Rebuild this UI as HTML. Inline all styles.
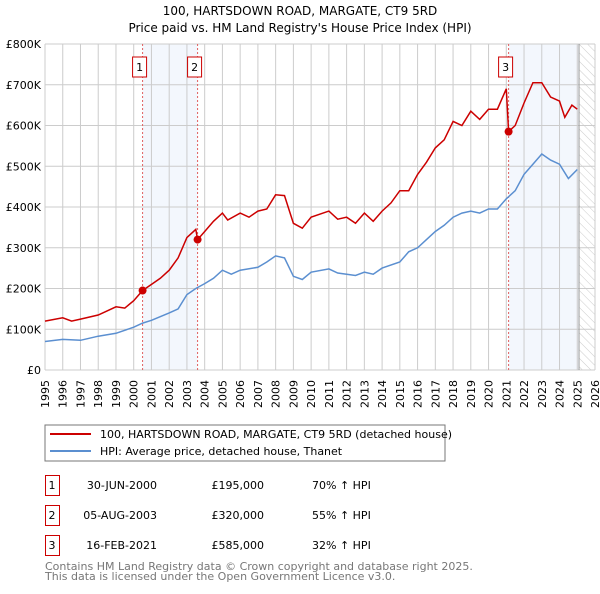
<!DOCTYPE html>
<html><head><meta charset="utf-8"><style>
body{margin:0;background:#fff;font-family:"DejaVu Sans","Liberation Sans",sans-serif;}
svg text{font-family:"DejaVu Sans","Liberation Sans",sans-serif;}
</style></head><body>
<svg id="c" width="600" height="590" xmlns="http://www.w3.org/2000/svg">
<defs><pattern id="hatch" width="6" height="6" patternUnits="userSpaceOnUse" patternTransform="rotate(-45)"><line x1="0" y1="0" x2="0" y2="6" stroke="#ccc" stroke-width="1"/></pattern></defs>
<text x="300" y="15" text-anchor="middle" font-size="12">100, HARTSDOWN ROAD, MARGATE, CT9 5RD</text>
<text x="300" y="32" text-anchor="middle" font-size="12">Price paid vs. HM Land Registry's House Price Index (HPI)</text>
<g id="plot"></g>
<rect x="45" y="425" width="400" height="36" fill="#fff" stroke="#777"/>
<line x1="50" y1="434" x2="91" y2="434" stroke="#cc0000" stroke-width="2"/>
<text x="100" y="438" font-size="11">100, HARTSDOWN ROAD, MARGATE, CT9 5RD (detached house)</text>
<line x1="50" y1="451" x2="91" y2="451" stroke="#5b8fd0" stroke-width="2"/>
<text x="100" y="455" font-size="11">HPI: Average price, detached house, Thanet</text>
<g font-size="11">
<rect x="45.5" y="475.5" width="14" height="20" fill="none" stroke="#cc0000"/><text x="52" y="489" text-anchor="middle">1</text>
<text x="157" y="489" text-anchor="end">30-JUN-2000</text><text x="264" y="489" text-anchor="end">£195,000</text><text x="312" y="489">70% ↑ HPI</text>
<rect x="45.5" y="505.5" width="14" height="20" fill="none" stroke="#cc0000"/><text x="52" y="519" text-anchor="middle">2</text>
<text x="157" y="519" text-anchor="end">05-AUG-2003</text><text x="264" y="519" text-anchor="end">£320,000</text><text x="312" y="519">55% ↑ HPI</text>
<rect x="45.5" y="535.5" width="14" height="20" fill="none" stroke="#cc0000"/><text x="52" y="549" text-anchor="middle">3</text>
<text x="157" y="549" text-anchor="end">16-FEB-2021</text><text x="264" y="549" text-anchor="end">£585,000</text><text x="312" y="549">32% ↑ HPI</text>
</g>
<text x="45" y="570" font-size="11" fill="#777">Contains HM Land Registry data © Crown copyright and database right 2025.</text>
<text x="45" y="580" font-size="11" fill="#777">This data is licensed under the Open Government Licence v3.0.</text>
</svg>
<script>
const yTicks=[0,100,200,300,400,500,600,700,800];
const yTickLabels=["£0","£100K","£200K","£300K","£400K","£500K","£600K","£700K","£800K"];
const xYears=[1995,1996,1997,1998,1999,2000,2001,2002,2003,2004,2005,2006,2007,2008,2009,2010,2011,2012,2013,2014,2015,2016,2017,2018,2019,2020,2021,2022,2023,2024,2025,2026];
const hpiT=[1995,1996,1997,1998,1999,2000,2000.5,2001,2002,2002.5,2003,2003.5,2004,2004.5,2005,2005.5,2006,2007,2007.5,2008,2008.5,2009,2009.5,2010,2011,2011.5,2012,2012.5,2013,2013.5,2014,2015,2015.5,2016,2016.5,2017,2017.5,2018,2018.5,2019,2019.5,2020,2020.5,2021,2021.5,2022,2022.5,2023,2023.5,2024,2024.5,2025];
const hpiV=[70,75,73,83,90,105,115,122,140,150,185,200,212,225,245,235,245,252,265,280,275,230,222,240,248,238,235,232,240,235,250,265,290,300,320,340,355,375,385,390,385,395,395,420,440,480,505,530,515,505,470,492];
const ppT=[1995,1996,1996.5,1997,1998,1998.5,1999,1999.5,2000,2000.5,2001,2001.5,2002,2002.5,2003,2003.5,2003.6,2004,2004.5,2005,2005.3,2006,2006.5,2007,2007.5,2008,2008.5,2009,2009.5,2010,2011,2011.5,2012,2012.5,2013,2013.5,2014,2014.5,2015,2015.5,2016,2016.5,2017,2017.5,2018,2018.5,2019,2019.5,2020,2020.5,2021,2021.13,2021.5,2022,2022.5,2023,2023.5,2024,2024.3,2024.7,2025];
const ppV=[120,128,120,125,135,145,155,152,170,195,210,225,245,275,325,345,320,340,365,385,368,385,375,390,395,430,428,360,348,375,390,370,375,360,385,365,390,410,440,440,480,510,545,565,610,600,635,615,640,640,690,585,600,655,705,705,670,660,620,650,640];
const saleT=[2000.5,2003.6,2021.13];
const saleV=[195,320,585];
const saleLabels=["1","2","3"];
const X0=45,X1=595,Y0=370,Y1=44;
const xs=t=>X0+(t-1995)/31*(X1-X0);
const ys=v=>Y0-v/800*(Y0-Y1);
const NS="http://www.w3.org/2000/svg";
const g=document.getElementById('plot');
function mk(tag,a){const e=document.createElementNS(NS,tag);for(const k in a)e.setAttribute(k,a[k]);g.appendChild(e);return e;}
let r=mk('rect',{x:xs(2000.5),y:Y1,width:xs(2003.6)-xs(2000.5),height:Y0-Y1,fill:'#eef3fc',opacity:0.7});


r=mk('rect',{x:xs(2021.13),y:Y1,width:xs(2025.1)-xs(2021.13),height:Y0-Y1,fill:'#eef3fc',opacity:0.7});


r=mk('rect',{x:xs(2025.1),y:Y1,width:X1-xs(2025.1),height:Y0-Y1,fill:'url(#hatch)'});


xYears.forEach(y=>{const l=mk('line',{x1:xs(y),x2:xs(y),y1:Y1,y2:Y0,stroke:'#ccc'});


const t=mk('text',{x:xs(y),y:Y0+6,'font-size':11,'text-anchor':'end',transform:`rotate(-90 ${xs(y)+4} ${Y0+6})`});t.textContent=y;

});
yTicks.forEach((v,i)=>{const l=mk('line',{x1:X0,x2:X1,y1:ys(v),y2:ys(v),stroke:'#ccc'});


const t=mk('text',{x:X0-4,y:ys(v)+4,'font-size':11,'text-anchor':'end'});t.textContent=yTickLabels[i];

});
let l=mk('line',{x1:xs(2025.1),x2:xs(2025.1),y1:Y1,y2:Y0,stroke:'#999'});


saleT.forEach((t,i)=>{const d=mk('line',{x1:xs(t),x2:xs(t),y1:Y1,y2:Y0,stroke:'#e06060','stroke-dasharray':'2,2'});


const b=mk('rect',{x:xs(t)-10,y:57,width:14,height:20,fill:'#fff',stroke:'#cc0000'});


const tx=mk('text',{x:xs(t)-3,y:71,'font-size':11,'text-anchor':'middle'});tx.textContent=saleLabels[i];

});
const pts=(T,V)=>T.map((t,i)=>xs(t).toFixed(1)+','+ys(V[i]).toFixed(1)).join(' ');
let p=mk('polyline',{points:pts(hpiT,hpiV),fill:'none',stroke:'#5b8fd0','stroke-width':1.5});


p=mk('polyline',{points:pts(ppT,ppV),fill:'none',stroke:'#cc0000','stroke-width':1.5});


saleT.forEach((t,i)=>{const c=mk('circle',{cx:xs(t),cy:ys(saleV[i]),r:4,fill:'#cc0000'});

});
</script>
</body></html>
